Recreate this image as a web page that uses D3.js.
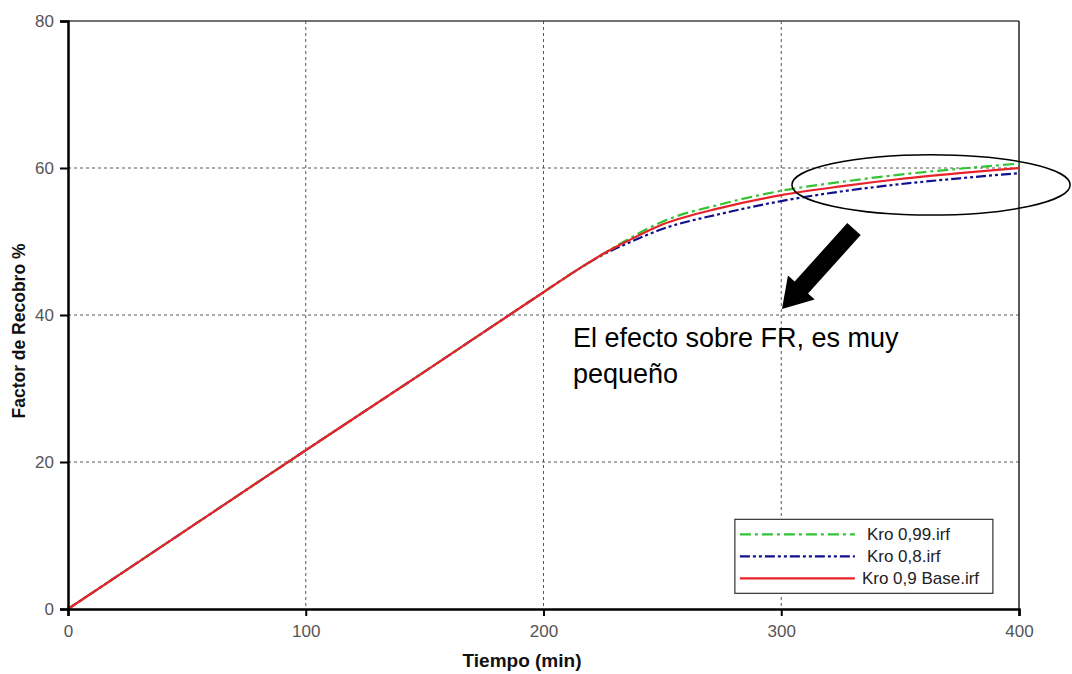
<!DOCTYPE html>
<html>
<head>
<meta charset="utf-8">
<script src="https://cdn.jsdelivr.net/npm/d3@7"></script>
<style>
  body { margin: 0; background: #fff; }
  .tick text { font-family: "Liberation Sans", Arial, sans-serif; font-size: 17px; fill: #555; }
  .axis path, .axis line { stroke: #000; }
  .grid line { stroke: #555; stroke-dasharray: 3,3; }
  .title { font-family: "Liberation Sans", Arial, sans-serif; font-weight: bold; fill: #111; }
  .legend text { font-family: "Liberation Sans", Arial, sans-serif; font-size: 17px; fill: #222; }
  .note { font-family: "Liberation Sans", Arial, sans-serif; font-size: 27px; fill: #000; }
</style>
</head>
<body>
<div id="chart"></div>
<script>
var width = 1072, height = 674,
    margin = {top: 21, right: 53, bottom: 65, left: 68};

// values
var tiempo = [0, 50, 100, 150, 200, 215, 225, 235, 250, 275, 300, 325, 350, 375, 400];
var kro099 = [0, 10.8, 21.6, 32.3, 43.1, 46.3, 48.3, 50.2, 52.7, 55.1, 56.9, 58.1, 59.1, 59.9, 60.6];
var kro08  = [0, 10.8, 21.6, 32.3, 43.1, 46.3, 48.2, 49.7, 51.7, 53.8, 55.5, 56.8, 57.8, 58.6, 59.3];
var kro09  = [0, 10.8, 21.6, 32.3, 43.1, 46.3, 48.3, 50.0, 52.3, 54.6, 56.3, 57.5, 58.5, 59.3, 60.0];

var xTicks = [0, 100, 200, 300, 400];
var yTicks = [0, 20, 40, 60, 80];

var seriesNames = ["Kro 0,99.irf", "Kro 0,8.irf", "Kro 0,9 Base.irf"];
var seriesVals = [kro099, kro08, kro09];
var seriesCol = ["#33c433", "#10108f", "#e8222a"];
var seriesDash = ["11,4,3,4", "10,3,3,3,3,3", null];

var noteLines = ["El efecto sobre FR, es muy", "pequeño"];

var w = width - margin.left - margin.right,
    h = height - margin.top - margin.bottom;

var x = d3.scaleLinear().domain([0, 400]).range([0, w]);
var y = d3.scaleLinear().domain([0, 80]).range([h, 0]);

var svg = d3.select("#chart").append("svg")
    .attr("width", width)
    .attr("height", height)
    .append("g")
    .attr("transform", "translate(" + margin.left + "," + margin.top + ")");

// grid
var grid = svg.append("g").attr("class", "grid");
grid.selectAll("line.v").data(xTicks.slice(1, -1)).enter().append("line")
    .attr("x1", function(d) { return x(d); }).attr("x2", function(d) { return x(d); })
    .attr("y1", 0).attr("y2", h);
grid.selectAll("line.h").data(yTicks.slice(1, -1)).enter().append("line")
    .attr("x1", 0).attr("x2", w)
    .attr("y1", function(d) { return y(d); }).attr("y2", function(d) { return y(d); });

// frame top/right
svg.append("line").attr("x1", 0).attr("x2", w).attr("y1", 0).attr("y2", 0)
    .attr("stroke", "#444").attr("stroke-width", 1.5);
svg.append("line").attr("x1", w).attr("x2", w).attr("y1", 0).attr("y2", h)
    .attr("stroke", "#222").attr("stroke-width", 1.5);

// series
var line = d3.line()
    .x(function(d) { return x(d[0]); })
    .y(function(d) { return y(d[1]); })
    .curve(d3.curveMonotoneX);

// draw base last so it sits on top
[1, 0, 2].forEach(function(i) {
    var pts = tiempo.map(function(t, j) { return [t, seriesVals[i][j]]; });
    svg.append("path")
        .datum(pts)
        .attr("fill", "none")
        .attr("stroke", seriesCol[i])
        .attr("stroke-width", 2.2)
        .attr("stroke-dasharray", seriesDash[i])
        .attr("d", line);
});

// axes
var xAxis = d3.axisBottom(x).tickValues(xTicks).tickSize(7).tickPadding(9);
var yAxis = d3.axisLeft(y).tickValues(yTicks).tickSize(8).tickPadding(6);

var gx = svg.append("g").attr("class", "axis")
    .attr("transform", "translate(0," + h + ")")
    .call(xAxis);
gx.select(".domain").attr("stroke-width", 2.5);
gx.selectAll(".tick line").attr("stroke-width", 2);

var gy = svg.append("g").attr("class", "axis").call(yAxis);
gy.select(".domain").attr("stroke-width", 2.5);
gy.selectAll(".tick line").attr("stroke-width", 2);

svg.append("text").attr("class", "title")
    .attr("x", 454).attr("y", h + 58)
    .attr("text-anchor", "middle")
    .style("font-size", "19px")
    .text("Tiempo (min)");

svg.append("text").attr("class", "title")
    .attr("transform", "translate(" + (-43) + "," + 310 + ") rotate(-90)")
    .attr("text-anchor", "middle")
    .style("font-size", "17.5px")
    .text("Factor de Recobro %");

// legend
var lg = svg.append("g").attr("class", "legend")
    .attr("transform", "translate(" + x(280.5) + "," + y(12.2) + ")");
lg.append("rect").attr("width", 258).attr("height", 74)
    .attr("fill", "#fff").attr("stroke", "#333").attr("stroke-width", 1.2);
seriesNames.forEach(function(n, i) {
    var yy = 15 + i * 22;
    lg.append("line").attr("x1", 5).attr("x2", 120).attr("y1", yy).attr("y2", yy)
        .attr("stroke", seriesCol[i]).attr("stroke-width", 2.2)
        .attr("stroke-dasharray", seriesDash[i]);
    lg.append("text").attr("x", i == 2 ? 127 : 132).attr("y", yy + 6).text(n);
});

// ellipse annotation
svg.append("ellipse")
    .attr("cx", x(363)).attr("cy", y(57.7))
    .attr("rx", x(58.5) - x(0)).attr("ry", y(0) - y(4.1))
    .attr("fill", "none").attr("stroke", "#000").attr("stroke-width", 1.5);

// arrow
var tail = [x(330.6), y(51.7)], tip = [x(300.3), y(40.8)];
var dx = tip[0] - tail[0], dy = tip[1] - tail[1], len = Math.sqrt(dx * dx + dy * dy);
var ux = dx / len, uy = dy / len, px = -uy, py = ux;
var sw = 9, hw = 18, hl = 29;
var bx = tip[0] - ux * hl, by = tip[1] - uy * hl;
var arrowPts = [
    [tail[0] + px * sw, tail[1] + py * sw],
    [bx + px * sw, by + py * sw],
    [bx + px * hw, by + py * hw],
    tip,
    [bx - px * hw, by - py * hw],
    [bx - px * sw, by - py * sw],
    [tail[0] - px * sw, tail[1] - py * sw]
];
svg.append("path")
    .attr("d", "M" + arrowPts.map(function(p) { return p[0] + "," + p[1]; }).join("L") + "Z")
    .attr("fill", "#000");

// note text
var note = svg.append("text").attr("class", "note")
    .attr("x", x(212.4)).attr("y", y(35.65));
noteLines.forEach(function(t, i) {
    note.append("tspan").attr("x", x(212.4)).attr("dy", i == 0 ? 0 : 36).text(t);
});
</script>
</body>
</html>
